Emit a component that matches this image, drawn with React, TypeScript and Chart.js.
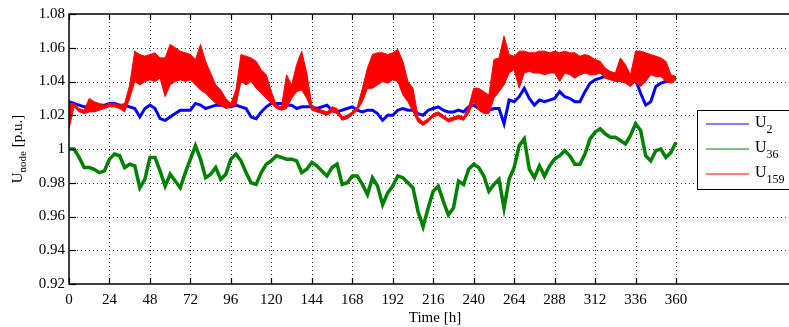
import { useEffect, useRef } from "react";
import { Chart, registerables } from "chart.js";

Chart.register(...registerables);

// ---------- data (sampled every STEP_H hours, t = 0 .. 360) ----------
const STEP_H = 3;
const timeTicks = [0, 24, 48, 72, 96, 120, 144, 168, 192, 216, 240, 264, 288, 312, 336, 360];
const voltageTicks = [0.92, 0.94, 0.96, 0.98, 1.0, 1.02, 1.04, 1.06, 1.08];

const u2 = [
  1.028, 1.027, 1.026, 1.025, 1.025, 1.025, 1.026, 1.026, 1.027, 1.027,
  1.026, 1.026, 1.025, 1.024, 1.019, 1.024, 1.026, 1.024, 1.018, 1.017,
  1.019, 1.021, 1.023, 1.023, 1.023, 1.027, 1.026, 1.024, 1.025, 1.026,
  1.026, 1.025, 1.025, 1.026, 1.025, 1.024, 1.019, 1.018, 1.022, 1.025,
  1.027, 1.027, 1.027, 1.026, 1.026, 1.024, 1.025, 1.025, 1.025, 1.024,
  1.025, 1.026, 1.023, 1.022, 1.023, 1.024, 1.025, 1.023, 1.022, 1.023,
  1.023, 1.021, 1.017, 1.020, 1.020, 1.023, 1.024, 1.023, 1.023, 1.021,
  1.020, 1.023, 1.024, 1.025, 1.023, 1.022, 1.022, 1.023, 1.022, 1.025,
  1.026, 1.024, 1.024, 1.023, 1.024, 1.024, 1.015, 1.029, 1.028, 1.031,
  1.036, 1.030, 1.026, 1.029, 1.028, 1.029, 1.030, 1.034, 1.031, 1.030,
  1.028, 1.028, 1.034, 1.039, 1.041, 1.042, 1.043, 1.043, 1.042, 1.042,
  1.042, 1.043, 1.041, 1.033, 1.026, 1.028, 1.037, 1.039, 1.040, 1.041,
  1.042,
];

const u36 = [
  1.000, 1.000, 0.995, 0.989, 0.989, 0.988, 0.986, 0.987, 0.994, 0.997,
  0.996, 0.989, 0.991, 0.990, 0.977, 0.982, 0.995, 0.995, 0.987, 0.978,
  0.985, 0.981, 0.977, 0.986, 0.994, 1.002, 0.994, 0.983, 0.985, 0.989,
  0.982, 0.985, 0.994, 0.997, 0.993, 0.986, 0.980, 0.979, 0.986, 0.991,
  0.993, 0.996, 0.995, 0.994, 0.994, 0.993, 0.986, 0.988, 0.992, 0.990,
  0.987, 0.984, 0.989, 0.991, 0.979, 0.980, 0.984, 0.984, 0.979, 0.973,
  0.983, 0.978, 0.967, 0.974, 0.978, 0.984, 0.983, 0.980, 0.977, 0.963,
  0.954, 0.965, 0.975, 0.978, 0.969, 0.961, 0.965, 0.981, 0.979, 0.988,
  0.991, 0.989, 0.984, 0.975, 0.979, 0.982, 0.965, 0.982, 0.989, 1.002,
  1.006, 0.988, 0.983, 0.990, 0.984, 0.990, 0.994, 0.996, 0.999, 0.996,
  0.991, 0.991, 0.997, 1.006, 1.010, 1.012, 1.009, 1.007, 1.007, 1.005,
  1.003, 1.008, 1.015, 1.011, 0.996, 0.993, 0.999, 1.000, 0.995, 0.998,
  1.004,
];

const u159Low = [
  1.012, 1.025, 1.022, 1.021, 1.022, 1.022, 1.023, 1.024, 1.025, 1.025,
  1.024, 1.022, 1.030, 1.040, 1.038, 1.040, 1.041, 1.040, 1.042, 1.031,
  1.038, 1.040, 1.041, 1.040, 1.041, 1.038, 1.035, 1.033, 1.030, 1.027,
  1.026, 1.024, 1.025, 1.026, 1.040, 1.038, 1.040, 1.036, 1.033, 1.030,
  1.027, 1.024, 1.023, 1.024, 1.030, 1.034, 1.035, 1.030, 1.023, 1.022,
  1.021, 1.020, 1.022, 1.021, 1.017, 1.018, 1.020, 1.023, 1.028, 1.036,
  1.036, 1.038, 1.040, 1.039, 1.041, 1.040, 1.032, 1.028, 1.022, 1.016,
  1.014, 1.016, 1.019, 1.020, 1.018, 1.016, 1.017, 1.018, 1.017, 1.021,
  1.028, 1.023, 1.021, 1.021, 1.030, 1.034, 1.038, 1.045, 1.047, 1.036,
  1.045, 1.046, 1.045, 1.045, 1.044, 1.045, 1.045, 1.040, 1.045, 1.044,
  1.042, 1.044, 1.045, 1.044, 1.044, 1.045, 1.042, 1.041, 1.040, 1.040,
  1.039, 1.037, 1.040, 1.037, 1.040, 1.044, 1.043, 1.043, 1.040, 1.039,
  1.041,
];

const u159High = [
  1.027, 1.027, 1.024, 1.023, 1.030, 1.028, 1.027, 1.026, 1.027, 1.027,
  1.026, 1.027, 1.038, 1.058, 1.056, 1.055, 1.056, 1.057, 1.054, 1.054,
  1.062, 1.060, 1.058, 1.057, 1.056, 1.053, 1.062, 1.052, 1.045, 1.038,
  1.035, 1.030, 1.027, 1.035, 1.056, 1.055, 1.054, 1.052, 1.047, 1.044,
  1.034, 1.026, 1.025, 1.044, 1.038, 1.050, 1.058, 1.045, 1.026, 1.024,
  1.023, 1.022, 1.025, 1.024, 1.019, 1.020, 1.022, 1.025, 1.036, 1.048,
  1.056, 1.057, 1.057, 1.056, 1.057, 1.059, 1.052, 1.040, 1.036, 1.019,
  1.016, 1.018, 1.021, 1.022, 1.020, 1.018, 1.019, 1.020, 1.019, 1.025,
  1.036, 1.036, 1.034, 1.032, 1.053, 1.054, 1.067, 1.056, 1.055, 1.058,
  1.058, 1.057, 1.057, 1.058, 1.058, 1.057, 1.058, 1.057, 1.058, 1.057,
  1.057, 1.055, 1.056, 1.055, 1.053, 1.052, 1.048, 1.046, 1.045, 1.054,
  1.050, 1.044, 1.058, 1.058, 1.057, 1.056, 1.055, 1.054, 1.052, 1.044,
  1.043,
];

const legendItems = [
  { base: "U", sub: "2", color: "#0000ff" },
  { base: "U", sub: "36", color: "#008000" },
  { base: "U", sub: "159", color: "#ff0000" },
];

const BLUE = "#0000ff";
const GREEN = "#008000";
const RED = "#ff0000";
const FAMILY = '"Liberation Serif", "Times New Roman", serif';

const pts = (arr: number[]) => arr.map((v, i) => ({ x: i * STEP_H, y: v }));

const framePlugin = {
  id: "matlabFrame",
  beforeDatasetsDraw(chart: any) {
    const { ctx, chartArea: a, scales } = chart;
    const x = scales.x;
    const y = scales.y;
    ctx.save();
    ctx.strokeStyle = "#333";
    ctx.lineWidth = 1;
    ctx.setLineDash([1, 3]);
    for (const t of timeTicks) {
      if (t === 0) continue;
      const px = Math.round(x.getPixelForValue(t)) + 0.5;
      ctx.beginPath();
      ctx.moveTo(px, a.top);
      ctx.lineTo(px, a.bottom);
      ctx.stroke();
    }
    for (const v of voltageTicks) {
      if (v === voltageTicks[0] || v === voltageTicks[voltageTicks.length - 1]) continue;
      const py = Math.round(y.getPixelForValue(v)) + 0.5;
      ctx.beginPath();
      ctx.moveTo(a.left, py);
      ctx.lineTo(a.right, py);
      ctx.stroke();
    }
    ctx.restore();
  },
  afterDatasetsDraw(chart: any) {
    const { ctx, chartArea: a, scales } = chart;
    const x = scales.x;
    const y = scales.y;
    ctx.save();
    ctx.setLineDash([]);
    ctx.strokeStyle = "#000";
    ctx.lineWidth = 1.5;
    // frame
    ctx.beginPath();
    ctx.moveTo(a.right + 2, a.top);
    ctx.lineTo(a.left, a.top);
    ctx.lineTo(a.left, a.bottom);
    ctx.lineTo(a.right + 2, a.bottom);
    ctx.stroke();
    // inward ticks
    ctx.lineWidth = 1.2;
    for (const t of timeTicks) {
      const px = Math.round(x.getPixelForValue(t)) + 0.5;
      ctx.beginPath();
      ctx.moveTo(px, a.bottom);
      ctx.lineTo(px, a.bottom - 6);
      ctx.moveTo(px, a.top);
      ctx.lineTo(px, a.top + 6);
      ctx.stroke();
    }
    for (const v of voltageTicks) {
      const py = Math.round(y.getPixelForValue(v)) + 0.5;
      ctx.beginPath();
      ctx.moveTo(a.left, py);
      ctx.lineTo(a.left + 7, py);
      ctx.stroke();
    }

    // legend
    const lx = 697, ly = 110, lw = 110, lh = 79;
    ctx.fillStyle = "#fff";
    ctx.fillRect(lx, ly, lw, lh);
    ctx.strokeStyle = "#000";
    ctx.lineWidth = 1;
    ctx.strokeRect(lx + 0.5, ly + 0.5, lw, lh);
    const rows = [124, 149, 174];
    legendItems.forEach((it, i) => {
      const yy = rows[i];
      ctx.strokeStyle = it.color;
      ctx.lineWidth = 1;
      ctx.beginPath();
      ctx.moveTo(706, yy);
      ctx.lineTo(749, yy);
      ctx.stroke();
      ctx.fillStyle = "#000";
      ctx.textBaseline = "alphabetic";
      ctx.textAlign = "left";
      ctx.font = `16px ${FAMILY}`;
      ctx.fillText(it.base, 755, yy + 3);
      const wb = ctx.measureText(it.base).width;
      ctx.font = `12px ${FAMILY}`;
      ctx.fillText(it.sub, 755 + wb, yy + 9);
    });

    // x title
    ctx.fillStyle = "#000";
    ctx.font = `15px ${FAMILY}`;
    ctx.textAlign = "center";
    ctx.textBaseline = "middle";
    ctx.fillText("Time [h]", 435, 318);

    // y title (rotated, with subscript)
    ctx.save();
    ctx.translate(17, 149);
    ctx.rotate(-Math.PI / 2);
    ctx.textAlign = "left";
    ctx.textBaseline = "alphabetic";
    ctx.font = `15px ${FAMILY}`;
    const wU = ctx.measureText("U").width;
    const wRest = ctx.measureText(" [p.u.]").width;
    ctx.font = `11px ${FAMILY}`;
    const wSub = ctx.measureText("node").width;
    let sx = -(wU + wSub + wRest) / 2;
    ctx.font = `15px ${FAMILY}`;
    ctx.fillText("U", sx, 5);
    sx += wU;
    ctx.font = `11px ${FAMILY}`;
    ctx.fillText("node", sx, 9);
    sx += wSub;
    ctx.font = `15px ${FAMILY}`;
    ctx.fillText(" [p.u.]", sx, 5);
    ctx.restore();

    ctx.restore();
  },
};

export default function App() {
  const ref = useRef<HTMLCanvasElement>(null);
  useEffect(() => {
    const canvas = ref.current;
    if (!canvas) return;
    const tickFont = { family: FAMILY, size: 15 };
    const chart = new Chart(canvas, {
      type: "line",
      data: {
        datasets: [
          {
            label: "U159 high",
            data: pts(u159High),
            borderColor: RED,
            backgroundColor: RED,
            borderWidth: 1,
            fill: "+1",
            pointRadius: 0,
            tension: 0,
          },
          {
            label: "U159 low",
            data: pts(u159Low),
            borderColor: RED,
            borderWidth: 1,
            fill: false,
            pointRadius: 0,
            tension: 0,
          },
          {
            label: "U36",
            data: pts(u36),
            borderColor: GREEN,
            borderWidth: 3.5,
            fill: false,
            pointRadius: 0,
            tension: 0,
          },
          {
            label: "U2",
            data: pts(u2),
            borderColor: BLUE,
            borderWidth: 3,
            fill: false,
            pointRadius: 0,
            tension: 0,
          },
        ],
      },
      options: {
        responsive: false,
        animation: false,
        events: [],
        layout: { padding: { top: 14, left: 0, right: 0, bottom: 0 } },
        plugins: { legend: { display: false }, tooltip: { enabled: false } },
        scales: {
          x: {
            type: "linear",
            min: 0,
            max: 427,
            afterBuildTicks: (s: any) => {
              s.ticks = timeTicks.map((v) => ({ value: v }));
            },
            afterFit: (s: any) => {
              s.height = 43;
            },
            grid: { display: false, drawTicks: false },
            border: { display: false },
            ticks: {
              font: tickFont,
              color: "#000",
              padding: 7,
              maxRotation: 0,
              autoSkip: false,
              callback: (v: any) => String(v),
            },
          },
          y: {
            type: "linear",
            min: 0.92,
            max: 1.08,
            afterBuildTicks: (s: any) => {
              s.ticks = voltageTicks.map((v) => ({ value: v }));
            },
            afterFit: (s: any) => {
              s.width = 69;
            },
            grid: { display: false, drawTicks: false },
            border: { display: false },
            ticks: {
              font: tickFont,
              color: "#000",
              padding: 4,
              autoSkip: false,
              callback: (v: any) => {
                const n = Math.round(Number(v) * 100) / 100;
                return n === 1 ? "1" : n.toFixed(2);
              },
            },
          },
        },
      },
      plugins: [framePlugin],
    } as any);
    return () => chart.destroy();
  }, []);
  return (
    <div style={{ position: "fixed", left: 0, top: 0, width: 789, height: 327, background: "#fff", overflow: "hidden" }}>
      <canvas ref={ref} width={789} height={327} style={{ display: "block" }} />
    </div>
  );
}
